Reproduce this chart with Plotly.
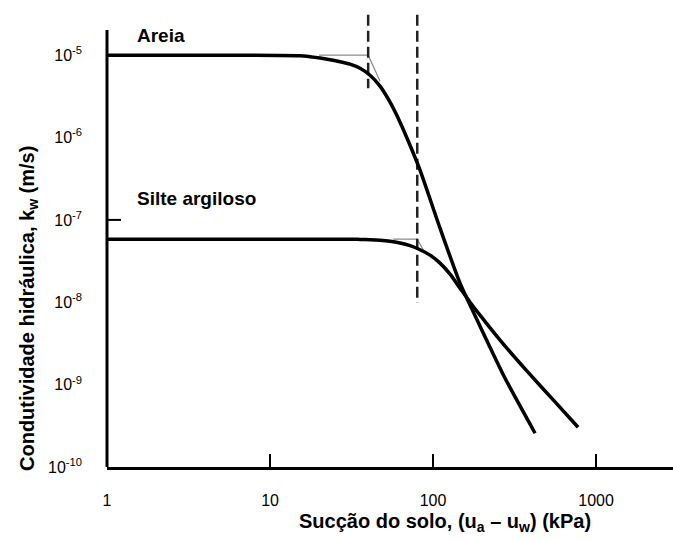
import plotly.graph_objects as go
import numpy as np

# ---- data ----
suction_areia = [1, 3.72, 7.54, 15.28, 17.60, 20.26, 23.34, 26.88, 30.96, 35.66, 41.07, 47.30,
                 54.48, 62.74, 72.26, 83.23, 110.4, 146.4, 194.2, 276.5, 422.6]
logk_areia = [-5.0, -5.0, -5.0, -5.006, -5.018, -5.034, -5.055, -5.079, -5.109, -5.158, -5.243,
              -5.376, -5.571, -5.813, -6.093, -6.396, -7.100, -7.768, -8.290, -8.922, -9.590]

suction_silte = [1, 3.72, 15.28, 30.96, 35.66, 41.07, 47.30, 54.48, 62.74, 72.26, 83.23, 95.85,
                 110.4, 127.2, 146.4, 168.7, 194.2, 257.6, 377.3, 560.4, 775.5]
logk_silte = [-7.234, -7.234, -7.234, -7.234, -7.237, -7.240, -7.246, -7.258, -7.280, -7.313,
              -7.362, -7.428, -7.525, -7.659, -7.829, -7.999, -8.157, -8.460, -8.837, -9.210, -9.517]

# construction (tangent) lines
tan_areia_x = [20, 40, 47.3]
tan_areia_logk = [-5.0, -5.0, -5.316]
tan_silte_x = [57, 80, 89.3]
tan_silte_logk = [-7.234, -7.234, -7.403]

# air-entry values (dashed verticals)
aev_x = [40, 80]
aev_top_logk = [-4.51, -4.51]
aev_bottom_logk = [-5.40, -8.01]

x_tickvals = [1, 10, 100, 1000]
x_ticktext = ["1", "10", "100", "1000"]
y_exps = [-5, -6, -7, -8, -9, -10]
y_tick_marks = [-7]

FONT = "Arial, Liberation Sans, sans-serif"

fig = go.Figure()

def tenpow(v):
    return [10 ** e for e in v]

# tangent lines
for xs, ys in [(tan_areia_x, tan_areia_logk), (tan_silte_x, tan_silte_logk)]:
    fig.add_trace(go.Scatter(x=xs, y=tenpow(ys), mode="lines",
                             line=dict(color="#8a8a8a", width=1.2), hoverinfo="skip", showlegend=False))

# dashed vertical lines
for xv, yt, yb in zip(aev_x, aev_top_logk, aev_bottom_logk):
    fig.add_trace(go.Scatter(x=[xv, xv], y=tenpow([yt, yb]), mode="lines",
                             line=dict(color="#222", width=2.5, dash="11px,5px"),
                             hoverinfo="skip", showlegend=False))

# main curves
fig.add_trace(go.Scatter(x=suction_areia, y=tenpow(logk_areia), mode="lines",
                         line=dict(color="black", width=3.5, shape="spline", smoothing=0.6),
                         name="Areia", showlegend=False))
fig.add_trace(go.Scatter(x=suction_silte, y=tenpow(logk_silte), mode="lines",
                         line=dict(color="black", width=3.5, shape="spline", smoothing=0.6),
                         name="Silte argiloso", showlegend=False))

W, H = 673, 541
ml, mr, mt, mb = 107, 0, 14, 74
pw, ph = W - ml - mr, H - mt - mb

def px2paper_x(px):
    return (px - ml) / pw

def px2paper_y(py):
    return (H - mb - py) / ph

shapes = [
    # y axis line
    dict(type="line", xref="paper", yref="paper", x0=0, x1=0, y0=0, y1=px2paper_y(30),
         line=dict(color="black", width=3)),
]
for e in y_tick_marks:
    yp = (e - (-10)) / 5.5
    shapes.append(dict(type="line", xref="paper", yref="paper", x0=0, x1=14 / pw, y0=yp, y1=yp,
                       line=dict(color="black", width=2)))

annotations = [
    dict(text="<b>Areia</b>", x=np.log10(1.49), y=-4.757, xref="x", yref="y", xanchor="left",
         yanchor="middle", showarrow=False, font=dict(family=FONT, size=19, color="black")),
    dict(text="<b>Silte argiloso</b>", x=np.log10(1.49), y=-6.735, xref="x", yref="y", xanchor="left",
         yanchor="middle", showarrow=False, font=dict(family=FONT, size=19, color="black")),
    dict(text="<b>Sucção do solo, (u<sub>a</sub> – u<sub>w</sub>) (kPa)</b>", x=px2paper_x(445),
         y=px2paper_y(522), xref="paper", yref="paper", xanchor="center", yanchor="middle",
         showarrow=False, font=dict(family=FONT, size=20, color="black")),
    dict(text="<b>Condutividade hidráulica, k<sub>w</sub> (m/s)</b>", x=px2paper_x(28),
         y=px2paper_y(309), xref="paper", yref="paper", xanchor="center", yanchor="middle",
         textangle=-90, showarrow=False, font=dict(family=FONT, size=20, color="black")),
]

fig.update_layout(
    width=W, height=H,
    margin=dict(l=ml, r=mr, t=mt, b=mb, pad=0),
    paper_bgcolor="white", plot_bgcolor="white",
    font=dict(family=FONT, size=16, color="black"),
    shapes=shapes, annotations=annotations,
    xaxis=dict(type="log", range=[0, 3.472], showgrid=False, zeroline=False,
               showline=True, linecolor="black", linewidth=3,
               ticks="inside", ticklen=13, tickwidth=2, tickcolor="black",
               tickvals=x_tickvals, ticktext=x_ticktext, ticklabelstandoff=17,
               tickfont=dict(family=FONT, size=16, color="black")),
    yaxis=dict(type="log", range=[-10, -4.5], showgrid=False, zeroline=False,
               showline=False, ticks="",
               tickvals=[10 ** e for e in y_exps],
               ticktext=["10<sup>%d</sup>" % e for e in y_exps], ticklabelstandoff=24,
               tickfont=dict(family=FONT, size=16, color="black")),
)

fig.write_html("out.html")
